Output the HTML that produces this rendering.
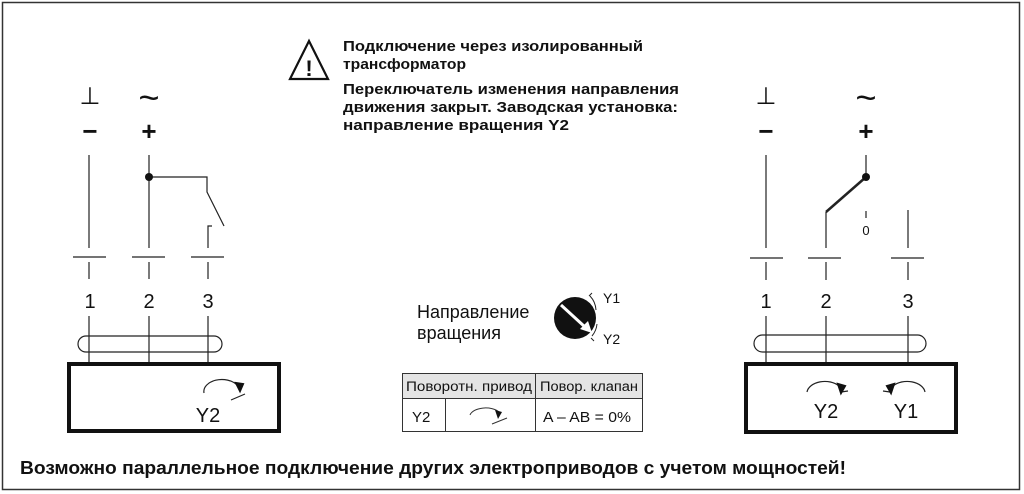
<!DOCTYPE html>
<html><head><meta charset="utf-8"><style>
html,body{margin:0;padding:0;background:#fff;}
svg{display:block;}
text{font-family:"Liberation Sans",sans-serif;fill:#111;}
</style></head><body>
<svg width="1024" height="494" viewBox="0 0 1024 494" xmlns="http://www.w3.org/2000/svg">
<rect x="2.5" y="2.5" width="1017" height="487" fill="#fff" stroke="#333" stroke-width="1.5"/>

<!-- warning -->
<path d="M309 41 L290 79 L328 79 Z" fill="none" stroke="#111" stroke-width="2.2" stroke-linejoin="miter"/>
<text x="309" y="76" font-size="22" font-weight="bold" text-anchor="middle">!</text>
<g font-size="15" font-weight="bold">
<text x="343" y="51" textLength="300" lengthAdjust="spacingAndGlyphs">Подключение через изолированный</text>
<text x="343" y="69" textLength="123" lengthAdjust="spacingAndGlyphs">трансформатор</text>
<text x="343" y="94" textLength="336" lengthAdjust="spacingAndGlyphs">Переключатель изменения направления</text>
<text x="343" y="112" textLength="335" lengthAdjust="spacingAndGlyphs">движения закрыт. Заводская установка:</text>
<text x="343" y="130" textLength="226" lengthAdjust="spacingAndGlyphs">направление вращения Y2</text>
</g>

<g stroke="#222" stroke-width="1.2" fill="none">
<!-- LEFT -->
<line x1="89" y1="155" x2="89" y2="248"/>
<line x1="149" y1="155" x2="149" y2="248"/>
<polyline points="149,177 207,177 207,192 224,226"/>
<polyline points="212,226 208,226 208,248"/>
<line x1="73" y1="257" x2="106" y2="257"/>
<line x1="132" y1="257" x2="165" y2="257"/>
<line x1="191" y1="257" x2="224" y2="257"/>
<line x1="89" y1="262" x2="89" y2="279"/>
<line x1="149" y1="262" x2="149" y2="279"/>
<line x1="208" y1="262" x2="208" y2="279"/>
<line x1="89" y1="316" x2="89" y2="364"/>
<line x1="149" y1="316" x2="149" y2="364"/>
<line x1="208" y1="316" x2="208" y2="364"/>
<rect x="78" y="336" width="144" height="16" rx="8"/>
<rect x="69" y="364" width="210" height="67" stroke="#111" stroke-width="4"/>
<path d="M204 393 A18 12 0 0 1 237 385"/>
<line x1="231" y1="400" x2="245" y2="394"/>

<!-- RIGHT -->
<line x1="766" y1="155" x2="766" y2="248"/>
<line x1="866" y1="155" x2="866" y2="177"/>
<line x1="826" y1="212" x2="826" y2="248"/>
<line x1="826" y1="212" x2="866" y2="177" stroke-width="2.5"/>
<line x1="866" y1="211" x2="866" y2="218"/>
<line x1="908" y1="210" x2="908" y2="248"/>
<line x1="750" y1="258" x2="783" y2="258"/>
<line x1="808" y1="258" x2="841" y2="258"/>
<line x1="891" y1="258" x2="924" y2="258"/>
<line x1="766" y1="262" x2="766" y2="280"/>
<line x1="826" y1="262" x2="826" y2="280"/>
<line x1="908" y1="262" x2="908" y2="280"/>
<line x1="766" y1="316" x2="766" y2="364"/>
<line x1="826" y1="316" x2="826" y2="364"/>
<line x1="908" y1="316" x2="908" y2="364"/>
<rect x="754" y="335" width="172" height="17" rx="8.5"/>
<rect x="746" y="364" width="210" height="68" stroke="#111" stroke-width="4"/>
<path d="M807 392 A18 12 0 0 1 839 386"/>
<line x1="841" y1="392" x2="848" y2="391"/>
<path d="M925 392 A18 12 0 0 0 893 386"/>
<line x1="883" y1="391" x2="890" y2="392"/>
</g>
<circle cx="149" cy="177" r="4" fill="#111"/>
<circle cx="866" cy="177" r="4" fill="#111"/>
<path d="M236 383 L243 384 L240 391 Z" fill="#111" stroke="#111" stroke-width="2"/>
<path d="M838 384 L845 386 L841 393 Z" fill="#111" stroke="#111" stroke-width="2"/>
<path d="M894 384 L887 386 L891 393 Z" fill="#111" stroke="#111" stroke-width="2"/>

<g font-size="24" text-anchor="middle">
<text x="90" y="104">⊥</text><text x="766" y="104">⊥</text>
</g>
<g font-size="36" text-anchor="middle">
<text x="149" y="110">~</text><text x="866" y="110">~</text>
</g>
<g font-size="26" font-weight="bold" text-anchor="middle">
<text x="90" y="140">−</text><text x="149" y="140">+</text>
<text x="766" y="140">−</text><text x="866" y="140">+</text>
</g>
<g font-size="20" text-anchor="middle">
<text x="90" y="308">1</text><text x="149" y="308">2</text><text x="208" y="308">3</text>
<text x="766" y="308">1</text><text x="826" y="308">2</text><text x="908" y="308">3</text>
<text x="208" y="422">Y2</text>
<text x="826" y="418">Y2</text><text x="906" y="418">Y1</text>
</g>
<text x="866" y="235" font-size="13" text-anchor="middle">0</text>

<!-- middle -->
<text x="417" y="318" font-size="18">Направление</text>
<text x="417" y="339" font-size="18">вращения</text>
<circle cx="575" cy="318" r="21" fill="#111"/>
<line x1="561" y1="305" x2="585" y2="327" stroke="#fff" stroke-width="3"/>
<path d="M592 333 L580 329 L588 321 Z" fill="#fff"/>
<g stroke="#222" stroke-width="1" fill="none">
<path d="M590 296 A22 22 0 0 1 596 310"/>
<path d="M597 324 A22 22 0 0 1 592 336"/>
<line x1="589" y1="296" x2="592" y2="293"/>
<line x1="591" y1="338" x2="594" y2="341"/>
</g>
<text x="603" y="303" font-size="14">Y1</text>
<text x="603" y="344" font-size="14">Y2</text>

<g stroke="#333" stroke-width="1" fill="none">
<rect x="402.5" y="373.5" width="240" height="58"/>
<rect x="403" y="374" width="239" height="24" fill="#e4e4e4" stroke="none"/>
<line x1="402" y1="398.5" x2="643" y2="398.5"/>
<line x1="535.5" y1="373" x2="535.5" y2="432"/>
<line x1="445.5" y1="398" x2="445.5" y2="432"/>
<path d="M470 415 A16 9 0 0 1 499 412"/>
<line x1="492" y1="424" x2="507" y2="418"/>
</g>
<path d="M495 410 L502 412 L498 419 Z" fill="#111"/>
<g font-size="13.5">
<text x="406" y="391" textLength="126" lengthAdjust="spacingAndGlyphs">Поворотн. привод</text>
<text x="540" y="391" textLength="98" lengthAdjust="spacingAndGlyphs">Повор. клапан</text>
<text x="412" y="422" font-size="15">Y2</text>
<text x="543" y="422" font-size="15" textLength="88" lengthAdjust="spacingAndGlyphs">A – AB = 0%</text>
</g>

<text x="20" y="474" font-size="18" font-weight="bold" textLength="826" lengthAdjust="spacingAndGlyphs">Возможно параллельное подключение других электроприводов с учетом мощностей!</text>
</svg>
</body></html>
